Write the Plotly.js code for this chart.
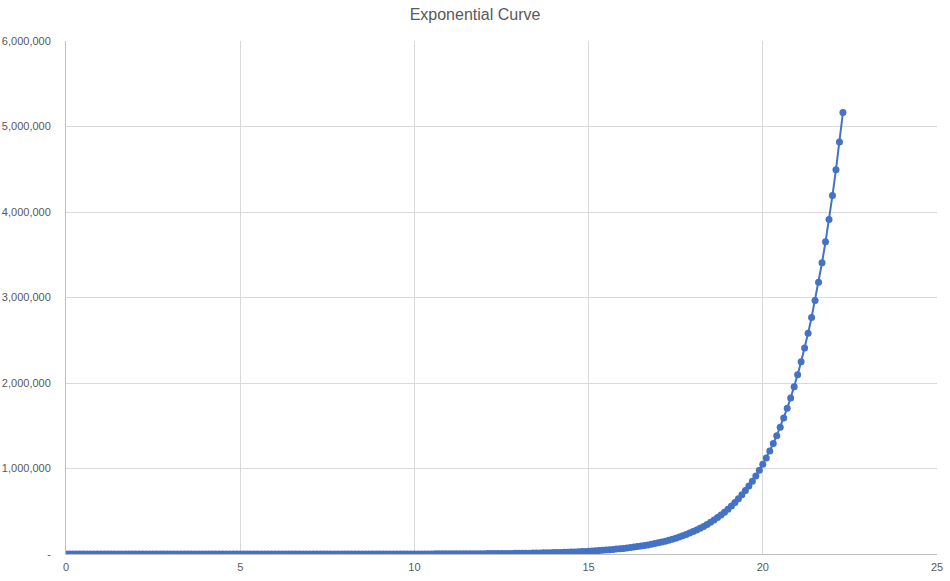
<!DOCTYPE html>
<html>
<head>
<meta charset="utf-8">
<script src="https://cdn.plot.ly/plotly-3.0.1.min.js"></script>
<style>html,body{margin:0;padding:0;background:#fff;}#chart{width:950px;height:581px;}</style>
</head>
<body>
<div id="chart"></div>
<script>
const xValues = [
0,0.1,0.2,0.3,0.4,0.5,0.6,0.7,0.8,0.9,
1,1.1,1.2,1.3,1.4,1.5,1.6,1.7,1.8,1.9,
2,2.1,2.2,2.3,2.4,2.5,2.6,2.7,2.8,2.9,
3,3.1,3.2,3.3,3.4,3.5,3.6,3.7,3.8,3.9,
4,4.1,4.2,4.3,4.4,4.5,4.6,4.7,4.8,4.9,
5,5.1,5.2,5.3,5.4,5.5,5.6,5.7,5.8,5.9,
6,6.1,6.2,6.3,6.4,6.5,6.6,6.7,6.8,6.9,
7,7.1,7.2,7.3,7.4,7.5,7.6,7.7,7.8,7.9,
8,8.1,8.2,8.3,8.4,8.5,8.6,8.7,8.8,8.9,
9,9.1,9.2,9.3,9.4,9.5,9.6,9.7,9.8,9.9,
10,10.1,10.2,10.3,10.4,10.5,10.6,10.7,10.8,10.9,
11,11.1,11.2,11.3,11.4,11.5,11.6,11.7,11.8,11.9,
12,12.1,12.2,12.3,12.4,12.5,12.6,12.7,12.8,12.9,
13,13.1,13.2,13.3,13.4,13.5,13.6,13.7,13.8,13.9,
14,14.1,14.2,14.3,14.4,14.5,14.6,14.7,14.8,14.9,
15,15.1,15.2,15.3,15.4,15.5,15.6,15.7,15.8,15.9,
16,16.1,16.2,16.3,16.4,16.5,16.6,16.7,16.8,16.9,
17,17.1,17.2,17.3,17.4,17.5,17.6,17.7,17.8,17.9,
18,18.1,18.2,18.3,18.4,18.5,18.6,18.7,18.8,18.9,
19,19.1,19.2,19.3,19.4,19.5,19.6,19.7,19.8,19.9,
20,20.1,20.2,20.3,20.4,20.5,20.6,20.7,20.8,20.9,
21,21.1,21.2,21.3,21.4,21.5,21.6,21.7,21.8,21.9,
22,22.1,22.2,22.3
];
const yValues = [
1,1.07,1.15,1.23,1.32,1.41,1.52,1.62,1.74,1.87,
2,2.14,2.30,2.46,2.64,2.83,3.03,3.25,3.48,3.73,
4,4.29,4.59,4.92,5.28,5.66,6.06,6.50,6.96,7.46,
8,8.57,9.19,9.85,10.56,11.31,12.13,13.00,13.93,14.93,
16,17.15,18.38,19.70,21.11,22.63,24.25,25.99,27.86,29.86,
32,34.30,36.76,39.40,42.22,45.25,48.50,51.98,55.72,59.71,
64,68.59,73.52,78.79,84.45,90.51,97.01,103.97,111.43,119.43,
128,137.19,147.03,157.59,168.90,181.02,194.01,207.94,222.86,238.86,
256,274.37,294.07,315.17,337.79,362.04,388.02,415.87,445.72,477.71,
512,548.75,588.13,630.35,675.59,724.08,776.05,831.75,891.44,955.43,
1024,1098,1176,1261,1351,1448,1552,1663,1783,1911,
2048,2195,2353,2521,2702,2896,3104,3327,3566,3822,
4096,4390,4705,5043,5405,5793,6208,6654,7132,7643,
8192,8780,9410,10086,10809,11585,12417,13308,14263,15287,
16384,17560,18820,20171,21619,23170,24834,26616,28526,30574,
32768,35120,37641,40342,43238,46341,49667,53232,57052,61147,
65536,70240,75281,80684,86475,92682,99334,106464,114105,122294,
131072,140479,150562,161368,172951,185364,198668,212927,228210,244589,
262144,280959,301124,322737,345901,370728,397336,425855,456419,489178,
524288,561918,602249,645474,691802,741455,794672,851709,912838,978355,
1048576,1123836,1204497,1290948,1383604,1482910,1589345,1703418,1825677,1956711,
2097152,2247671,2408995,2581897,2767209,2965821,3178689,3406837,3651354,3913421,
4194304,4495342,4817990,5163793
];
const yTickVals = [0,1000000,2000000,3000000,4000000,5000000,6000000];
const yTickText = ["-","1,000,000","2,000,000","3,000,000","4,000,000","5,000,000","6,000,000"];
const xTickVals = [0,5,10,15,20,25];
const chartTitle = "Exponential Curve";

const gridColor = "#d9d9d9";
const axisColor = "#bfbfbf";
const textColor = "#595959";
const fontFam = "Liberation Sans, Arial, sans-serif";

Plotly.newPlot("chart", [{
  x: xValues, y: yValues,
  type: "scatter", mode: "lines+markers",
  line: {color: "#4472C4", width: 2},
  marker: {color: "#4472C4", size: 7},
  hoverinfo: "x+y"
}], {
  width: 950, height: 581,
  margin: {l: 66, r: 13, t: 41, b: 27},
  paper_bgcolor: "#ffffff", plot_bgcolor: "#ffffff",
  showlegend: false,
  title: {text: chartTitle, x: 0.5, xanchor: "center", y: 0.975, yanchor: "middle",
          font: {family: fontFam, size: 16, color: textColor}},
  font: {family: fontFam, size: 11, color: textColor},
  xaxis: {range: [0, 25], tickvals: xTickVals, showgrid: true, gridcolor: gridColor, gridwidth: 1,
          zeroline: false, showline: true, linecolor: axisColor, linewidth: 1, mirror: false,
          ticks: "", ticklabelstandoff: 3, tickfont: {size: 11, color: textColor}},
  yaxis: {range: [0, 6000000], tickvals: yTickVals, ticktext: yTickText, showgrid: true,
          gridcolor: gridColor, gridwidth: 1, zeroline: false, showline: true, linecolor: axisColor,
          linewidth: 1, mirror: false, ticks: "", ticklabelstandoff: 12, tickfont: {size: 11, color: textColor}}
}, {displayModeBar: false, staticPlot: true});
</script>
</body>
</html>
